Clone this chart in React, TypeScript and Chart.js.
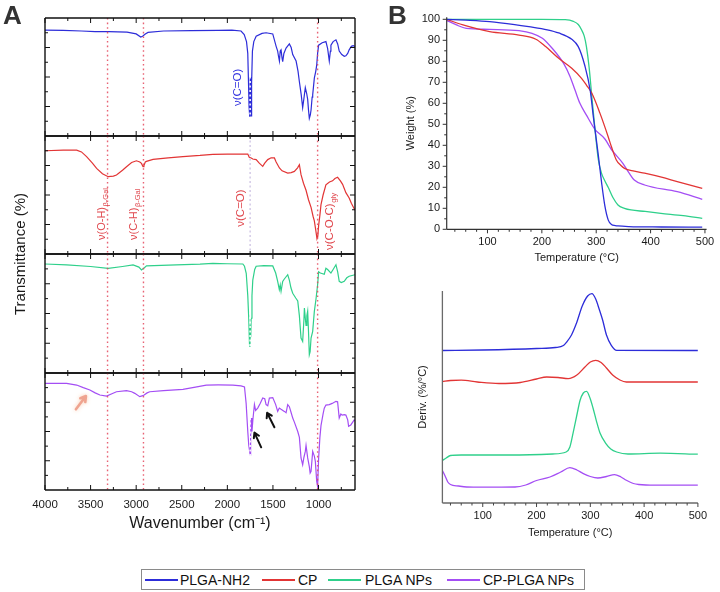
import React, { useEffect, useRef } from 'react';
import { Chart, registerables } from 'chart.js';

Chart.register(...registerables);

const FONT = 'Arial, "Liberation Sans", Helvetica, sans-serif';

const SERIES = ['PLGA-NH2', 'CP', 'PLGA NPs', 'CP-PLGA NPs'];
const COLORS = ['#2d2dd9', '#e23535', '#2fd08b', '#a44ef4'];

// ---------------- FTIR (panel A): wavenumber (cm-1) / transmittance (% of panel) ----------------
const WN_PLGA_NH2 = [4000,3800,3600,3450,3300,3100,3000,2950,2930,2900,2870,2700,2400,2100,1950,1850,1815,1790,1776,1768,1762,1757,1752,1748,1744,1740,1734,1725,1710,1684,1620,1575,1502,1465,1448,1440,1429,1420,1411,1400,1393,1380,1356,1320,1300,1283,1246,1225,1210,1190,1174,1160,1145,1130,1119,1110,1101,1090,1082,1070,1064,1046,1030,1020,1010,999,960,919,900,882,870,864,840,809,790,773,745,718,700,680,664,640,620,600];
const T_PLGA_NH2 = [89.8,89.5,89,88.4,88.4,88,86.5,83.8,84.5,86.5,87.8,89,89.3,89.5,89.8,89,86,80,70,45,25,16.4,30,50,28,17,45,72,80,84.5,87,87.5,86.5,76,72,68,63.5,72,73,66,63,70,74.5,78,75,69,63.5,55,46,35,24,32,41,36,31,22,15,18,22,33,35,49,55,60,70,77,79,80,74,63.5,72,77,80,81.5,78,72,69,67.5,68,70,73,76,76.5,76];

const WN_CP = [4000,3800,3653,3600,3544,3480,3434,3370,3307,3250,3216,3150,3106,3050,2997,2960,2942,2925,2915,2900,2887,2815,2650,2487,2300,2159,2000,1800,1776,1760,1739,1721,1684,1650,1612,1590,1557,1520,1484,1465,1429,1400,1338,1300,1265,1230,1210,1192,1165,1137,1110,1082,1060,1046,1030,1017,1008,999,985,973,950,919,880,846,820,791,760,736,700,664,640,620,600];
const T_CP = [87.5,88,88,86.5,82.5,77,72.6,68,65.5,66,67,71,74,77.5,79,78,76.8,74,75,78,78.5,80.2,81.5,82.5,83.5,84.5,84.7,84.7,84.7,82,81.4,80.5,80,77,74.3,77,80,81.5,81.4,78,72.9,70.5,68.6,69,70,73,75.7,67.2,60,54,46,39.5,32,28,20,13,15,24,33,41.8,50,58.7,61,62,64,65,62,59,52,47.5,43,40,37];

const WN_PLGA_NPS = [4000,3763,3500,3307,3150,3034,2970,2942,2910,2887,2560,2300,2159,2000,1830,1812,1793,1776,1765,1757,1752,1748,1744,1739,1730,1721,1700,1684,1600,1502,1470,1448,1430,1420,1411,1393,1375,1338,1320,1302,1283,1250,1228,1210,1192,1174,1160,1155,1145,1137,1128,1119,1110,1101,1092,1082,1064,1046,1028,1010,999,980,937,919,900,864,840,809,790,773,750,718,690,664,600];
const T_PLGA_NPS = [91.6,90.8,89.5,88,89.5,90.8,89,86.6,88.5,90,90.8,91.5,92.2,91.8,91.6,89.7,83.8,65,45,24,22,40,30,46,65,78,87,89.7,90.2,90,84,77,70,74,68.7,77,79,82.6,78,71.4,67,63,60.5,48,29.4,26.6,45,54.6,46,40,48,52,35,15.4,18,29.4,35,51.8,62,74.2,85,84,83,88,87,84,87,91,85,77,76,77,80,81.3,82.6];

const WN_CP_PLGA_NPS = [4000,3763,3653,3580,3508,3450,3398,3325,3260,3216,3106,3050,3015,2961,2935,2917,2880,2851,2700,2487,2350,2231,2100,1940,1850,1812,1794,1776,1765,1757,1750,1745,1739,1730,1720,1703,1690,1667,1640,1612,1590,1575,1557,1539,1502,1470,1448,1430,1411,1375,1356,1338,1320,1300,1283,1265,1228,1210,1192,1174,1160,1145,1137,1119,1101,1092,1082,1064,1046,1035,1020,1010,999,985,973,950,937,919,882,850,809,791,773,755,740,718,700,680,670,646,609,600];
const T_CP_PLGA_NPS = [91.2,91.2,89.7,87.5,85.5,83,81.2,80.3,82.5,84,84.9,84,82.6,79.8,80.5,81,83,84,85,86,88,89.7,89.8,89.7,89,88,74,50,38,34,30,45,61.5,50,60,73,68,70,74,78.6,78,73,72,78.6,79,73,67.2,70,69,67.2,66,73,71.2,66,61.5,58,50,45,27.4,21.6,28,33,38,27.4,20,14.5,16,33,29,24.5,7.4,3,27,45,55,65,70,72.6,73,74,75.8,75.5,61.5,65,64,64.4,64,60,54.4,55.6,59.8,59];

const FTIR_X_TICK_LABELS = [4000, 3500, 3000, 2500, 2000, 1500, 1000];
const FTIR_X_MINOR = [3750, 3250, 2750, 2250, 1750, 1250, 750];
const FTIR_Y_MAJOR = [25, 50, 75];
const FTIR_Y_MINOR = [12.5, 37.5, 62.5, 87.5];
const BAND_LINES = [3314, 2920, 1010];
const CO_LINE = 1750;

// ---------------- TGA (panel B, top): temperature (°C) / weight (%) ----------------
const TGA_T_PLGA_NH2 = [25,60,104,150,176,210,231,255,267,279,289,295,298,304,310,316,322,328,335,340,360,420,495];
const TGA_W_PLGA_NH2 = [100,99.6,98.9,97.5,96.5,95,93.5,90.5,87,78,66,53,47,35,22,11,4.5,2.3,1.8,1.6,1.3,1.1,1.0];
const TGA_T_CP = [25,55,104,158,189,207,231,255,273,282,292,307,322,328,337,345,352,370,389,420,449,495];
const TGA_W_CP = [100,97.3,94.1,92.5,90.5,87,81.4,76.7,71.9,68.7,64.8,55.2,44.1,39.3,33,30.5,29,27.7,26.7,24.8,22.7,19.5];
const TGA_T_PLGA_NPS = [25,100,200,243,258,267,273,278,282,287,292,298,304,310,316,322,331,340,352,364,390,419,460,495];
const TGA_W_PLGA_NPS = [100,100,100,99.8,99,97.5,95,92,87,77,63,47,33,26.5,23,20,15,11.6,10,9.2,8.5,7.6,6.5,5.2];
const TGA_T_CP_PLGA_NPS = [25,43,61,104,158,182,201,219,240,252,261,270,282,298,316,328,349,360,370,389,449,495];
const TGA_W_CP_PLGA_NPS = [99.5,97.3,95.7,95.2,94.6,93.3,91,86.2,79,72.7,66.3,60,54.4,47.5,43,38,31.4,27,23.5,21.1,17.9,14.3];

const TGA_X_TICK_LABELS = [100, 200, 300, 400, 500];
const TEMP_MINOR = [40,60,80,120,140,160,180,220,240,260,280,320,340,360,380,420,440,460,480];
const TGA_Y_TICK_LABELS = [0,10,20,30,40,50,60,70,80,90,100];
const TGA_Y_MINOR = [5,15,25,35,45,55,65,75,85,95];

// ---------------- DTG (panel B, bottom): temperature (°C) / stacked derivative (a.u.) ----------------
const DTG_T_PLGA_NH2 = [25,100,200,235,250,256,265,274,285,295,303,310,317,323,330,339,349,500];
const DTG_V_PLGA_NH2 = [152.5,153,154.5,155.5,157.5,161,168,179.4,197,207,209.4,204,193,182.7,168,157.7,152.7,152.5];
const DTG_T_CP = [25,40,60,90,130,170,200,219,240,259,275,290,300,310,320,330,342,355,367,500];
const DTG_V_CP = [121.5,122.5,122.8,121,119.5,120.5,124,126,125.5,124.4,128,136,141,142.7,140.5,135,127.7,123,121,121];
const DTG_T_PLGA_NPS = [25,32,40,60,150,230,255,262,269,275,281,287,293,300,305,311,318,329,338,349,370,430,500];
const DTG_V_PLGA_NPS = [42.5,45,47.5,48,48,49,51,56,72.7,88,102.7,110,111.7,104,95,82.7,70,59.4,54,51,49,49.8,48.8];
const DTG_T_CP_PLGA_NPS = [25,30,35,40,55,70,100,160,180,200,225,245,262,275,287,300,314,330,345,357,367,380,390,420,500];
const DTG_V_CP_PLGA_NPS = [32.5,27,21,18.5,17,16,15.8,16,18,22.5,26,31,35.4,33,29.4,26.5,25,26.5,28.4,26,22.7,19.5,18.5,17.8,17.8];

const DTG_X_TICK_LABELS = [100, 200, 300, 400, 500];

// ---------------------------------------------------------------------------------------

const zip = (xs: number[], ys: number[]) =>
  xs.slice(0, Math.min(xs.length, ys.length)).map((x, i) => ({ x, y: ys[i] }));

const decor = {
  id: 'decor',
  afterDatasetsDraw(chart: any, _args: any, o: any) {
    if (!o) return;
    const { ctx, chartArea: ca, scales } = chart;
    const xs = scales.x;
    const ys = scales.y;
    ctx.save();
    for (const v of o.vlines || []) {
      const px = xs.getPixelForValue(v.value);
      ctx.beginPath();
      ctx.setLineDash(v.dash || [1.5, 3]);
      ctx.strokeStyle = v.color;
      ctx.lineWidth = v.width || 1.4;
      ctx.moveTo(px, ca.top);
      ctx.lineTo(px, ca.bottom);
      ctx.stroke();
    }
    ctx.setLineDash([]);
    if (o.frame) {
      ctx.strokeStyle = o.frame.color;
      ctx.lineWidth = o.frame.width;
      ctx.beginPath();
      for (const s of o.frame.sides) {
        if (s === 'top') { ctx.moveTo(ca.left, ca.top); ctx.lineTo(ca.right, ca.top); }
        if (s === 'bottom') { ctx.moveTo(ca.left, ca.bottom); ctx.lineTo(ca.right, ca.bottom); }
        if (s === 'left') { ctx.moveTo(ca.left, ca.top); ctx.lineTo(ca.left, ca.bottom); }
        if (s === 'right') { ctx.moveTo(ca.right, ca.top); ctx.lineTo(ca.right, ca.bottom); }
      }
      ctx.stroke();
    }
    for (const t of o.ticks || []) {
      ctx.strokeStyle = t.color;
      ctx.lineWidth = t.width || 1;
      ctx.beginPath();
      for (const v of t.values) {
        if (t.side === 'top' || t.side === 'bottom') {
          const px = xs.getPixelForValue(v);
          const y0 = t.side === 'top' ? ca.top : ca.bottom;
          const dir = (t.side === 'top' ? 1 : -1) * (t.inward ? 1 : -1);
          ctx.moveTo(px, y0);
          ctx.lineTo(px, y0 + dir * t.len);
        } else {
          const py = ys.getPixelForValue(v);
          const x0 = t.side === 'left' ? ca.left : ca.right;
          const dir = (t.side === 'left' ? 1 : -1) * (t.inward ? 1 : -1);
          ctx.moveTo(x0, py);
          ctx.lineTo(x0 + dir * t.len, py);
        }
      }
      ctx.stroke();
    }
    for (const l of o.labels || []) {
      const px = xs.getPixelForValue(l.x);
      const py = ys.getPixelForValue(l.y);
      ctx.save();
      ctx.translate(px, py);
      ctx.rotate(-Math.PI / 2);
      ctx.fillStyle = l.color;
      ctx.textAlign = 'left';
      ctx.textBaseline = 'middle';
      ctx.font = `${l.size}px ${FONT}`;
      ctx.fillText(l.text, 0, 0);
      if (l.sub) {
        const w = ctx.measureText(l.text).width;
        ctx.font = `${l.subSize}px ${FONT}`;
        ctx.fillText(l.sub, w + 0.5, l.size * 0.38);
      }
      ctx.restore();
    }
    for (const a of o.arrows || []) {
      const x1 = xs.getPixelForValue(a.from[0]);
      const y1 = ys.getPixelForValue(a.from[1]);
      const x2 = xs.getPixelForValue(a.to[0]);
      const y2 = ys.getPixelForValue(a.to[1]);
      const ang = Math.atan2(y2 - y1, x2 - x1);
      ctx.save();
      ctx.strokeStyle = a.color;
      ctx.lineWidth = a.width;
      ctx.lineCap = 'round';
      ctx.lineJoin = 'round';
      if (a.glow) { ctx.shadowColor = a.glow; ctx.shadowBlur = 4; }
      ctx.beginPath();
      ctx.moveTo(x1, y1);
      ctx.lineTo(x2, y2);
      const hl = a.head;
      ctx.moveTo(x2 + hl * Math.cos(ang + 2.6), y2 + hl * Math.sin(ang + 2.6));
      ctx.lineTo(x2, y2);
      ctx.lineTo(x2 + hl * Math.cos(ang - 2.6), y2 + hl * Math.sin(ang - 2.6));
      ctx.stroke();
      ctx.restore();
    }
    ctx.restore();
  },
};

const FTIR_BOXES = [
  { x: 0, y: 14, w: 370, h: 126 },
  { x: 0, y: 132, w: 370, h: 126 },
  { x: 0, y: 250, w: 370, h: 127 },
  { x: 0, y: 369, w: 370, h: 169 },
];
const TGA_BOX = { x: 380, y: 0, w: 340, h: 269 };
const DTG_BOX = { x: 380, y: 280, w: 340, h: 264 };
const ALL_BOXES = [...FTIR_BOXES, TGA_BOX, DTG_BOX];

const LABEL_RED = '#e0484e';
const LABEL_BLUE = '#3535e0';

function ftirDecor(i: number) {
  const ticks = [
    { side: 'top', values: FTIR_X_TICK_LABELS, len: 5, inward: true, color: '#111', width: 1 },
    { side: 'top', values: FTIR_X_MINOR, len: 3, inward: true, color: '#111', width: 1 },
    { side: 'bottom', values: FTIR_X_TICK_LABELS, len: 5, inward: true, color: '#111', width: 1 },
    { side: 'bottom', values: FTIR_X_MINOR, len: 3, inward: true, color: '#111', width: 1 },
    { side: 'left', values: FTIR_Y_MAJOR, len: 5, inward: true, color: '#111', width: 1 },
    { side: 'left', values: FTIR_Y_MINOR, len: 3, inward: true, color: '#111', width: 1 },
    { side: 'right', values: FTIR_Y_MAJOR, len: 5, inward: true, color: '#111', width: 1 },
    { side: 'right', values: FTIR_Y_MINOR, len: 3, inward: true, color: '#111', width: 1 },
  ];
  const vlines = [
    ...BAND_LINES.map((v) => ({ value: v, color: 'rgba(228,70,92,0.85)', dash: [1.6, 3], width: 1.4 })),
    { value: CO_LINE, color: i === 1 ? '#d6cde8' : 'rgba(255,255,255,0.95)', dash: [2, 2.5], width: 1.6 },
  ];
  const labels: any[] = [];
  const arrows: any[] = [];
  if (i === 0) {
    labels.push({ x: 1885, y: 25.4, text: 'ν(C=O)', color: LABEL_BLUE, size: 11.5 });
  }
  if (i === 1) {
    labels.push({ x: 3376, y: 11.9, text: 'ν(O-H)', sub: 'β-Gal', color: LABEL_RED, size: 11, subSize: 7.5 });
    labels.push({ x: 3026, y: 11.9, text: 'ν(C-H)', sub: 'β-Gal', color: LABEL_RED, size: 11, subSize: 7.5 });
    labels.push({ x: 1848, y: 23.1, text: 'ν(C=O)', color: LABEL_RED, size: 11.5 });
    labels.push({ x: 875, y: 3.4, text: 'ν(C-O-C)', sub: 'gly', color: LABEL_RED, size: 11.5, subSize: 8 });
  }
  if (i === 3) {
    arrows.push({ from: [3661, 69], to: [3551, 80.3], color: 'rgba(238,160,140,0.95)', width: 2.6, head: 6, glow: 'rgba(250,200,170,0.9)' });
    arrows.push({ from: [1629, 36.5], to: [1703, 49], color: '#111', width: 2, head: 5.5 });
    arrows.push({ from: [1484, 53.6], to: [1564, 66], color: '#111', width: 2, head: 5.5 });
  }
  return {
    vlines,
    frame: { sides: ['top', 'bottom', 'left', 'right'], color: '#111', width: 1.4 },
    ticks,
    labels,
    arrows,
  };
}

export default function App() {
  const refs = useRef<(HTMLCanvasElement | null)[]>([]);

  useEffect(() => {
    Chart.defaults.font.family = FONT;
    Chart.defaults.color = '#1a1a1a';
    const charts: Chart[] = [];

    const ftirData = [
      zip(WN_PLGA_NH2, T_PLGA_NH2),
      zip(WN_CP, T_CP),
      zip(WN_PLGA_NPS, T_PLGA_NPS),
      zip(WN_CP_PLGA_NPS, T_CP_PLGA_NPS),
    ];

    ftirData.forEach((pts, i) => {
      const canvas = refs.current[i];
      if (!canvas) return;
      const isBottom = i === 3;
      charts.push(
        new Chart(canvas, {
          type: 'line',
          data: {
            datasets: [
              {
                label: SERIES[i],
                data: pts,
                borderColor: COLORS[i],
                borderWidth: 1.2,
                pointRadius: 0,
                tension: 0,
                fill: false,
              },
            ],
          },
          options: {
            responsive: false,
            animation: false,
            events: [],
            layout: { padding: { left: 45, right: 15, top: 4, bottom: isBottom ? 0 : 4 } },
            plugins: { legend: { display: false }, tooltip: { enabled: false }, decor: ftirDecor(i) } as any,
            scales: {
              x: {
                type: 'linear',
                min: 600,
                max: 4000,
                reverse: true,
                display: isBottom,
                grid: { display: false, drawTicks: false },
                border: { display: false },
                afterBuildTicks: (s: any) => { s.ticks = FTIR_X_TICK_LABELS.map((v) => ({ value: v })); },
                afterFit: (s: any) => { s.height = isBottom ? 48 : 0; },
                ticks: {
                  autoSkip: false,
                  maxRotation: 0,
                  padding: 8,
                  font: { size: 11.5 },
                  color: '#1a1a1a',
                  callback: (v: any) => String(v),
                },
                title: {
                  display: true,
                  text: 'Wavenumber (cm⁻¹)',
                  font: { size: 16 },
                  color: '#1a1a1a',
                  padding: { top: 0, bottom: 5 },
                },
              },
              y: { type: 'linear', min: 0, max: 100, display: false, afterFit: (s: any) => { s.width = 0; } },
            },
          },
          plugins: [decor],
        } as any)
      );
    });

    // TGA
    const tgaCanvas = refs.current[4];
    if (tgaCanvas) {
      const tgaSets = [
        zip(TGA_T_PLGA_NH2, TGA_W_PLGA_NH2),
        zip(TGA_T_CP, TGA_W_CP),
        zip(TGA_T_PLGA_NPS, TGA_W_PLGA_NPS),
        zip(TGA_T_CP_PLGA_NPS, TGA_W_CP_PLGA_NPS),
      ];
      charts.push(
        new Chart(tgaCanvas, {
          type: 'line',
          data: {
            datasets: tgaSets.map((pts, i) => ({
              label: SERIES[i],
              data: pts,
              borderColor: COLORS[i],
              borderWidth: 1.3,
              pointRadius: 0,
              cubicInterpolationMode: 'monotone',
              fill: false,
            })),
          },
          options: {
            responsive: false,
            animation: false,
            events: [],
            layout: { padding: { left: 20.4, right: 11.7, top: 17.2, bottom: 0 } },
            plugins: {
              legend: { display: false },
              tooltip: { enabled: false },
              decor: {
                frame: { sides: ['left', 'bottom'], color: '#333', width: 1.2 },
                ticks: [
                  { side: 'bottom', values: TGA_X_TICK_LABELS, len: 4, inward: false, color: '#333', width: 1 },
                  { side: 'bottom', values: TEMP_MINOR, len: 2.5, inward: false, color: '#333', width: 1 },
                  { side: 'left', values: TGA_Y_TICK_LABELS, len: 4, inward: false, color: '#333', width: 1 },
                  { side: 'left', values: TGA_Y_MINOR, len: 2.5, inward: false, color: '#333', width: 1 },
                ],
              },
            } as any,
            scales: {
              x: {
                type: 'linear',
                min: 25,
                max: 503,
                grid: { display: false, drawTicks: false },
                border: { display: false },
                afterBuildTicks: (s: any) => { s.ticks = TGA_X_TICK_LABELS.map((v) => ({ value: v })); },
                afterFit: (s: any) => { s.height = 39.7; },
                ticks: { autoSkip: false, maxRotation: 0, padding: 5.8, font: { size: 11 }, callback: (v: any) => String(v) },
                title: { display: true, text: 'Temperature (°C)', font: { size: 11 }, padding: { top: 4, bottom: 4 } },
              },
              y: {
                type: 'linear',
                min: 0,
                max: 101,
                grid: { display: false, drawTicks: false },
                border: { display: false },
                afterBuildTicks: (s: any) => { s.ticks = TGA_Y_TICK_LABELS.map((v) => ({ value: v })); },
                afterFit: (s: any) => { s.width = 46.3; },
                ticks: { autoSkip: false, padding: 6.7, font: { size: 11 }, callback: (v: any) => String(v) },
                title: { display: true, text: 'Weight (%)', font: { size: 11 }, padding: { top: 4, bottom: 4 } },
              },
            },
          },
          plugins: [decor],
        } as any)
      );
    }

    // DTG
    const dtgCanvas = refs.current[5];
    if (dtgCanvas) {
      const dtgSets = [
        zip(DTG_T_PLGA_NH2, DTG_V_PLGA_NH2),
        zip(DTG_T_CP, DTG_V_CP),
        zip(DTG_T_PLGA_NPS, DTG_V_PLGA_NPS),
        zip(DTG_T_CP_PLGA_NPS, DTG_V_CP_PLGA_NPS),
      ];
      charts.push(
        new Chart(dtgCanvas, {
          type: 'line',
          data: {
            datasets: dtgSets.map((pts, i) => ({
              label: SERIES[i],
              data: pts,
              borderColor: COLORS[i],
              borderWidth: 1.3,
              pointRadius: 0,
              cubicInterpolationMode: 'monotone',
              fill: false,
            })),
          },
          options: {
            responsive: false,
            animation: false,
            events: [],
            layout: { padding: { left: 32.7, right: 22.1, top: 11, bottom: 0 } },
            plugins: {
              legend: { display: false },
              tooltip: { enabled: false },
              decor: {
                frame: { sides: ['left', 'bottom'], color: '#6a6a6a', width: 1.3 },
                ticks: [
                  { side: 'bottom', values: DTG_X_TICK_LABELS, len: 4, inward: false, color: '#444', width: 1 },
                  { side: 'bottom', values: TEMP_MINOR, len: 2.5, inward: false, color: '#444', width: 1 },
                ],
              },
            } as any,
            scales: {
              x: {
                type: 'linear',
                min: 25,
                max: 500,
                grid: { display: false, drawTicks: false },
                border: { display: false },
                afterBuildTicks: (s: any) => { s.ticks = DTG_X_TICK_LABELS.map((v) => ({ value: v })); },
                afterFit: (s: any) => { s.height = 41; },
                ticks: { autoSkip: false, maxRotation: 0, padding: 6.4, font: { size: 11 }, callback: (v: any) => String(v) },
                title: { display: true, text: 'Temperature (°C)', font: { size: 11 }, padding: { top: 4, bottom: 4 } },
              },
              y: {
                type: 'linear',
                min: 0,
                max: 212,
                grid: { display: false, drawTicks: false },
                border: { display: false },
                ticks: { display: false },
                afterFit: (s: any) => { s.width = 29.7; },
                title: { display: true, text: 'Deriv. (%/°C)', font: { size: 11 }, padding: { top: 4, bottom: 4 } },
              },
            },
          },
          plugins: [decor],
        } as any)
      );
    }

    return () => charts.forEach((c) => c.destroy());
  }, []);

  const legendItems = [
    { line: 145, text: 180 },
    { line: 262, text: 298 },
    { line: 328, text: 365 },
    { line: 447, text: 483 },
  ];

  return (
    <div
      style={{
        position: 'absolute',
        left: 0,
        top: 0,
        width: 720,
        height: 592,
        background: '#fff',
        overflow: 'hidden',
        fontFamily: FONT,
        color: '#1a1a1a',
      }}
    >
      {ALL_BOXES.map((b, i) => (
        <canvas
          key={i}
          ref={(el) => { refs.current[i] = el; }}
          width={b.w}
          height={b.h}
          style={{ position: 'absolute', left: b.x, top: b.y, width: b.w, height: b.h }}
        />
      ))}
      <div style={{ position: 'absolute', left: 3, top: 1.5, fontSize: 26, fontWeight: 700, lineHeight: '26px', color: '#333' }}>A</div>
      <div style={{ position: 'absolute', left: 388, top: 1.5, fontSize: 26, fontWeight: 700, lineHeight: '26px', color: '#333' }}>B</div>
      <div
        style={{
          position: 'absolute',
          left: 19,
          top: 253.5,
          transform: 'translate(-50%, -50%) rotate(-90deg)',
          whiteSpace: 'nowrap',
          fontSize: 15,
          lineHeight: '15px',
        }}
      >
        Transmittance (%)
      </div>
      <div
        style={{
          position: 'absolute',
          left: 141,
          top: 569,
          width: 444,
          height: 21,
          border: '1px solid #8a8a8a',
          boxSizing: 'border-box',
        }}
      >
        {legendItems.map((it, i) => (
          <React.Fragment key={i}>
            <div
              style={{
                position: 'absolute',
                left: it.line - 142,
                top: 9,
                width: 33,
                height: 2,
                background: COLORS[i],
              }}
            />
            <div
              style={{
                position: 'absolute',
                left: it.text - 142,
                top: 1,
                fontSize: 14,
                lineHeight: '18px',
                whiteSpace: 'nowrap',
                color: '#111',
              }}
            >
              {SERIES[i]}
            </div>
          </React.Fragment>
        ))}
      </div>
    </div>
  );
}
